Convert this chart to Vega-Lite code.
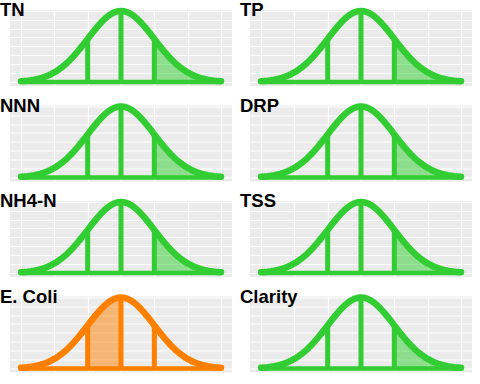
{
  "$schema": "https://vega.github.io/schema/vega-lite/v6.json",
  "padding": {"left": 0, "top": 1, "right": 0, "bottom": 0},
  "background": "white",
  "datasets": {
    "curve": [
      {"x": -3.0, "d": 0.0044}, {"x": -2.9, "d": 0.0060}, {"x": -2.8, "d": 0.0079}, {"x": -2.7, "d": 0.0104},
      {"x": -2.6, "d": 0.0136}, {"x": -2.5, "d": 0.0175}, {"x": -2.4, "d": 0.0224}, {"x": -2.3, "d": 0.0283},
      {"x": -2.2, "d": 0.0355}, {"x": -2.1, "d": 0.0440}, {"x": -2.0, "d": 0.0540}, {"x": -1.9, "d": 0.0656},
      {"x": -1.8, "d": 0.0790}, {"x": -1.7, "d": 0.0940}, {"x": -1.6, "d": 0.1109}, {"x": -1.5, "d": 0.1295},
      {"x": -1.4, "d": 0.1497}, {"x": -1.3, "d": 0.1714}, {"x": -1.2, "d": 0.1942}, {"x": -1.1, "d": 0.2179},
      {"x": -1.0, "d": 0.2420}, {"x": -0.9, "d": 0.2661}, {"x": -0.8, "d": 0.2897}, {"x": -0.7, "d": 0.3123},
      {"x": -0.6, "d": 0.3332}, {"x": -0.5, "d": 0.3521}, {"x": -0.4, "d": 0.3683}, {"x": -0.3, "d": 0.3814},
      {"x": -0.2, "d": 0.3910}, {"x": -0.1, "d": 0.3970}, {"x": 0.0, "d": 0.3989}, {"x": 0.1, "d": 0.3970},
      {"x": 0.2, "d": 0.3910}, {"x": 0.3, "d": 0.3814}, {"x": 0.4, "d": 0.3683}, {"x": 0.5, "d": 0.3521},
      {"x": 0.6, "d": 0.3332}, {"x": 0.7, "d": 0.3123}, {"x": 0.8, "d": 0.2897}, {"x": 0.9, "d": 0.2661},
      {"x": 1.0, "d": 0.2420}, {"x": 1.1, "d": 0.2179}, {"x": 1.2, "d": 0.1942}, {"x": 1.3, "d": 0.1714},
      {"x": 1.4, "d": 0.1497}, {"x": 1.5, "d": 0.1295}, {"x": 1.6, "d": 0.1109}, {"x": 1.7, "d": 0.0940},
      {"x": 1.8, "d": 0.0790}, {"x": 1.9, "d": 0.0656}, {"x": 2.0, "d": 0.0540}, {"x": 2.1, "d": 0.0440},
      {"x": 2.2, "d": 0.0355}, {"x": 2.3, "d": 0.0283}, {"x": 2.4, "d": 0.0224}, {"x": 2.5, "d": 0.0175},
      {"x": 2.6, "d": 0.0136}, {"x": 2.7, "d": 0.0104}, {"x": 2.8, "d": 0.0079}, {"x": 2.9, "d": 0.0060},
      {"x": 3.0, "d": 0.0044}
    ],
    "rules": [{"x": -1, "d": 0.2420}, {"x": 0, "d": 0.3989}, {"x": 1, "d": 0.2420}]
  },
  "columns": 2,
  "spacing": {"row": 19.5, "column": 18},
  "bounds": "flush",
  "concat": [
    {"width": 222, "height": 76, "layer": [
      {"data": {"name": "curve"}, "transform": [{"filter": "datum.x >= 1"}], "mark": {"type": "area", "color": "#32CD32", "opacity": 0.5},
       "encoding": {"x": {"field": "x", "type": "quantitative", "scale": {"domain": [-3.33, 3.33], "nice": false, "zero": false}}, "y": {"field": "d", "type": "quantitative", "scale": {"domain": [-0.022, 0.404], "nice": false, "zero": false}}}},
      {"data": {"name": "rules"}, "mark": {"type": "rule", "color": "#32CD32", "strokeWidth": 5},
       "encoding": {"x": {"field": "x", "type": "quantitative"}, "y": {"field": "d", "type": "quantitative"}, "y2": {"datum": 0}}},
      {"data": {"values": [{"x0": -3, "x1": 3, "y0": 0}]}, "mark": {"type": "rule", "color": "#32CD32", "strokeWidth": 4.5},
       "encoding": {"x": {"field": "x0", "type": "quantitative"}, "x2": {"field": "x1"}, "y": {"field": "y0", "type": "quantitative"}}},
      {"data": {"name": "curve"}, "mark": {"type": "line", "color": "#32CD32", "strokeWidth": 6.5, "strokeCap": "round", "strokeJoin": "round"},
       "encoding": {"x": {"field": "x", "type": "quantitative"}, "y": {"field": "d", "type": "quantitative"}}},
      {"data": {"values": [{"label": "TN", "tx": -3.63, "ty": 0.37}]}, "mark": {"type": "text", "align": "left", "baseline": "alphabetic", "font": "Liberation Sans", "fontSize": 18.5, "fontWeight": "bold", "color": "black"},
       "encoding": {"x": {"field": "tx", "type": "quantitative"}, "y": {"field": "ty", "type": "quantitative"}, "text": {"field": "label"}}}
    ]},
    {"width": 222, "height": 76, "layer": [
      {"data": {"name": "curve"}, "transform": [{"filter": "datum.x >= 1"}], "mark": {"type": "area", "color": "#32CD32", "opacity": 0.5},
       "encoding": {"x": {"field": "x", "type": "quantitative", "scale": {"domain": [-3.33, 3.33], "nice": false, "zero": false}}, "y": {"field": "d", "type": "quantitative", "scale": {"domain": [-0.022, 0.404], "nice": false, "zero": false}}}},
      {"data": {"name": "rules"}, "mark": {"type": "rule", "color": "#32CD32", "strokeWidth": 5},
       "encoding": {"x": {"field": "x", "type": "quantitative"}, "y": {"field": "d", "type": "quantitative"}, "y2": {"datum": 0}}},
      {"data": {"values": [{"x0": -3, "x1": 3, "y0": 0}]}, "mark": {"type": "rule", "color": "#32CD32", "strokeWidth": 4.5},
       "encoding": {"x": {"field": "x0", "type": "quantitative"}, "x2": {"field": "x1"}, "y": {"field": "y0", "type": "quantitative"}}},
      {"data": {"name": "curve"}, "mark": {"type": "line", "color": "#32CD32", "strokeWidth": 6.5, "strokeCap": "round", "strokeJoin": "round"},
       "encoding": {"x": {"field": "x", "type": "quantitative"}, "y": {"field": "d", "type": "quantitative"}}},
      {"data": {"values": [{"label": "TP", "tx": -3.63, "ty": 0.37}]}, "mark": {"type": "text", "align": "left", "baseline": "alphabetic", "font": "Liberation Sans", "fontSize": 18.5, "fontWeight": "bold", "color": "black"},
       "encoding": {"x": {"field": "tx", "type": "quantitative"}, "y": {"field": "ty", "type": "quantitative"}, "text": {"field": "label"}}}
    ]},
    {"width": 222, "height": 76, "layer": [
      {"data": {"name": "curve"}, "transform": [{"filter": "datum.x >= 1"}], "mark": {"type": "area", "color": "#32CD32", "opacity": 0.5},
       "encoding": {"x": {"field": "x", "type": "quantitative", "scale": {"domain": [-3.33, 3.33], "nice": false, "zero": false}}, "y": {"field": "d", "type": "quantitative", "scale": {"domain": [-0.022, 0.404], "nice": false, "zero": false}}}},
      {"data": {"name": "rules"}, "mark": {"type": "rule", "color": "#32CD32", "strokeWidth": 5},
       "encoding": {"x": {"field": "x", "type": "quantitative"}, "y": {"field": "d", "type": "quantitative"}, "y2": {"datum": 0}}},
      {"data": {"values": [{"x0": -3, "x1": 3, "y0": 0}]}, "mark": {"type": "rule", "color": "#32CD32", "strokeWidth": 4.5},
       "encoding": {"x": {"field": "x0", "type": "quantitative"}, "x2": {"field": "x1"}, "y": {"field": "y0", "type": "quantitative"}}},
      {"data": {"name": "curve"}, "mark": {"type": "line", "color": "#32CD32", "strokeWidth": 6.5, "strokeCap": "round", "strokeJoin": "round"},
       "encoding": {"x": {"field": "x", "type": "quantitative"}, "y": {"field": "d", "type": "quantitative"}}},
      {"data": {"values": [{"label": "NNN", "tx": -3.63, "ty": 0.37}]}, "mark": {"type": "text", "align": "left", "baseline": "alphabetic", "font": "Liberation Sans", "fontSize": 18.5, "fontWeight": "bold", "color": "black"},
       "encoding": {"x": {"field": "tx", "type": "quantitative"}, "y": {"field": "ty", "type": "quantitative"}, "text": {"field": "label"}}}
    ]},
    {"width": 222, "height": 76, "layer": [
      {"data": {"name": "curve"}, "transform": [{"filter": "datum.x >= 1"}], "mark": {"type": "area", "color": "#32CD32", "opacity": 0.5},
       "encoding": {"x": {"field": "x", "type": "quantitative", "scale": {"domain": [-3.33, 3.33], "nice": false, "zero": false}}, "y": {"field": "d", "type": "quantitative", "scale": {"domain": [-0.022, 0.404], "nice": false, "zero": false}}}},
      {"data": {"name": "rules"}, "mark": {"type": "rule", "color": "#32CD32", "strokeWidth": 5},
       "encoding": {"x": {"field": "x", "type": "quantitative"}, "y": {"field": "d", "type": "quantitative"}, "y2": {"datum": 0}}},
      {"data": {"values": [{"x0": -3, "x1": 3, "y0": 0}]}, "mark": {"type": "rule", "color": "#32CD32", "strokeWidth": 4.5},
       "encoding": {"x": {"field": "x0", "type": "quantitative"}, "x2": {"field": "x1"}, "y": {"field": "y0", "type": "quantitative"}}},
      {"data": {"name": "curve"}, "mark": {"type": "line", "color": "#32CD32", "strokeWidth": 6.5, "strokeCap": "round", "strokeJoin": "round"},
       "encoding": {"x": {"field": "x", "type": "quantitative"}, "y": {"field": "d", "type": "quantitative"}}},
      {"data": {"values": [{"label": "DRP", "tx": -3.63, "ty": 0.37}]}, "mark": {"type": "text", "align": "left", "baseline": "alphabetic", "font": "Liberation Sans", "fontSize": 18.5, "fontWeight": "bold", "color": "black"},
       "encoding": {"x": {"field": "tx", "type": "quantitative"}, "y": {"field": "ty", "type": "quantitative"}, "text": {"field": "label"}}}
    ]},
    {"width": 222, "height": 76, "layer": [
      {"data": {"name": "curve"}, "transform": [{"filter": "datum.x >= 1"}], "mark": {"type": "area", "color": "#32CD32", "opacity": 0.5},
       "encoding": {"x": {"field": "x", "type": "quantitative", "scale": {"domain": [-3.33, 3.33], "nice": false, "zero": false}}, "y": {"field": "d", "type": "quantitative", "scale": {"domain": [-0.022, 0.404], "nice": false, "zero": false}}}},
      {"data": {"name": "rules"}, "mark": {"type": "rule", "color": "#32CD32", "strokeWidth": 5},
       "encoding": {"x": {"field": "x", "type": "quantitative"}, "y": {"field": "d", "type": "quantitative"}, "y2": {"datum": 0}}},
      {"data": {"values": [{"x0": -3, "x1": 3, "y0": 0}]}, "mark": {"type": "rule", "color": "#32CD32", "strokeWidth": 4.5},
       "encoding": {"x": {"field": "x0", "type": "quantitative"}, "x2": {"field": "x1"}, "y": {"field": "y0", "type": "quantitative"}}},
      {"data": {"name": "curve"}, "mark": {"type": "line", "color": "#32CD32", "strokeWidth": 6.5, "strokeCap": "round", "strokeJoin": "round"},
       "encoding": {"x": {"field": "x", "type": "quantitative"}, "y": {"field": "d", "type": "quantitative"}}},
      {"data": {"values": [{"label": "NH4-N", "tx": -3.63, "ty": 0.37}]}, "mark": {"type": "text", "align": "left", "baseline": "alphabetic", "font": "Liberation Sans", "fontSize": 18.5, "fontWeight": "bold", "color": "black"},
       "encoding": {"x": {"field": "tx", "type": "quantitative"}, "y": {"field": "ty", "type": "quantitative"}, "text": {"field": "label"}}}
    ]},
    {"width": 222, "height": 76, "layer": [
      {"data": {"name": "curve"}, "transform": [{"filter": "datum.x >= 1"}], "mark": {"type": "area", "color": "#32CD32", "opacity": 0.5},
       "encoding": {"x": {"field": "x", "type": "quantitative", "scale": {"domain": [-3.33, 3.33], "nice": false, "zero": false}}, "y": {"field": "d", "type": "quantitative", "scale": {"domain": [-0.022, 0.404], "nice": false, "zero": false}}}},
      {"data": {"name": "rules"}, "mark": {"type": "rule", "color": "#32CD32", "strokeWidth": 5},
       "encoding": {"x": {"field": "x", "type": "quantitative"}, "y": {"field": "d", "type": "quantitative"}, "y2": {"datum": 0}}},
      {"data": {"values": [{"x0": -3, "x1": 3, "y0": 0}]}, "mark": {"type": "rule", "color": "#32CD32", "strokeWidth": 4.5},
       "encoding": {"x": {"field": "x0", "type": "quantitative"}, "x2": {"field": "x1"}, "y": {"field": "y0", "type": "quantitative"}}},
      {"data": {"name": "curve"}, "mark": {"type": "line", "color": "#32CD32", "strokeWidth": 6.5, "strokeCap": "round", "strokeJoin": "round"},
       "encoding": {"x": {"field": "x", "type": "quantitative"}, "y": {"field": "d", "type": "quantitative"}}},
      {"data": {"values": [{"label": "TSS", "tx": -3.63, "ty": 0.37}]}, "mark": {"type": "text", "align": "left", "baseline": "alphabetic", "font": "Liberation Sans", "fontSize": 18.5, "fontWeight": "bold", "color": "black"},
       "encoding": {"x": {"field": "tx", "type": "quantitative"}, "y": {"field": "ty", "type": "quantitative"}, "text": {"field": "label"}}}
    ]},
    {"width": 222, "height": 76, "layer": [
      {"data": {"name": "curve"}, "transform": [{"filter": "datum.x >= -1 && datum.x <= 0"}], "mark": {"type": "area", "color": "#FF7F00", "opacity": 0.5},
       "encoding": {"x": {"field": "x", "type": "quantitative", "scale": {"domain": [-3.33, 3.33], "nice": false, "zero": false}}, "y": {"field": "d", "type": "quantitative", "scale": {"domain": [-0.022, 0.404], "nice": false, "zero": false}}}},
      {"data": {"name": "rules"}, "mark": {"type": "rule", "color": "#FF7F00", "strokeWidth": 5},
       "encoding": {"x": {"field": "x", "type": "quantitative"}, "y": {"field": "d", "type": "quantitative"}, "y2": {"datum": 0}}},
      {"data": {"values": [{"x0": -3, "x1": 3, "y0": 0}]}, "mark": {"type": "rule", "color": "#FF7F00", "strokeWidth": 4.5},
       "encoding": {"x": {"field": "x0", "type": "quantitative"}, "x2": {"field": "x1"}, "y": {"field": "y0", "type": "quantitative"}}},
      {"data": {"name": "curve"}, "mark": {"type": "line", "color": "#FF7F00", "strokeWidth": 6.5, "strokeCap": "round", "strokeJoin": "round"},
       "encoding": {"x": {"field": "x", "type": "quantitative"}, "y": {"field": "d", "type": "quantitative"}}},
      {"data": {"values": [{"label": "E. Coli", "tx": -3.63, "ty": 0.37}]}, "mark": {"type": "text", "align": "left", "baseline": "alphabetic", "font": "Liberation Sans", "fontSize": 18.5, "fontWeight": "bold", "color": "black"},
       "encoding": {"x": {"field": "tx", "type": "quantitative"}, "y": {"field": "ty", "type": "quantitative"}, "text": {"field": "label"}}}
    ]},
    {"width": 222, "height": 76, "layer": [
      {"data": {"name": "curve"}, "transform": [{"filter": "datum.x >= 1"}], "mark": {"type": "area", "color": "#32CD32", "opacity": 0.5},
       "encoding": {"x": {"field": "x", "type": "quantitative", "scale": {"domain": [-3.33, 3.33], "nice": false, "zero": false}}, "y": {"field": "d", "type": "quantitative", "scale": {"domain": [-0.022, 0.404], "nice": false, "zero": false}}}},
      {"data": {"name": "rules"}, "mark": {"type": "rule", "color": "#32CD32", "strokeWidth": 5},
       "encoding": {"x": {"field": "x", "type": "quantitative"}, "y": {"field": "d", "type": "quantitative"}, "y2": {"datum": 0}}},
      {"data": {"values": [{"x0": -3, "x1": 3, "y0": 0}]}, "mark": {"type": "rule", "color": "#32CD32", "strokeWidth": 4.5},
       "encoding": {"x": {"field": "x0", "type": "quantitative"}, "x2": {"field": "x1"}, "y": {"field": "y0", "type": "quantitative"}}},
      {"data": {"name": "curve"}, "mark": {"type": "line", "color": "#32CD32", "strokeWidth": 6.5, "strokeCap": "round", "strokeJoin": "round"},
       "encoding": {"x": {"field": "x", "type": "quantitative"}, "y": {"field": "d", "type": "quantitative"}}},
      {"data": {"values": [{"label": "Clarity", "tx": -3.63, "ty": 0.37}]}, "mark": {"type": "text", "align": "left", "baseline": "alphabetic", "font": "Liberation Sans", "fontSize": 18.5, "fontWeight": "bold", "color": "black"},
       "encoding": {"x": {"field": "tx", "type": "quantitative"}, "y": {"field": "ty", "type": "quantitative"}, "text": {"field": "label"}}}
    ]}
  ],
  "config": {
    "view": {"fill": "#EBEBEB", "stroke": null},
    "axis": {"labels": false, "ticks": false, "domain": false, "title": null, "grid": true, "gridColor": "white", "gridWidth": 1.2, "gridOpacity": 1},
    "axisX": {"tickCount": 7},
    "axisY": {"tickCount": 9}
  }
}
